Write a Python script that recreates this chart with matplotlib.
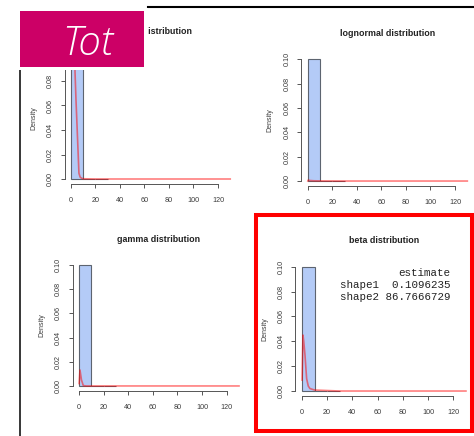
import matplotlib.pyplot as plt
from matplotlib import font_manager as fm
from matplotlib.patches import Rectangle
from matplotlib.lines import Line2D

# -------------------------
# Data
# -------------------------

titles = ["weibull distribution", "lognormal distribution",
          "gamma distribution", "beta distribution"]

bin_edges = [0, 10, 20, 30]
hist_density = [0.1, 0.0002, 0.0001]

x_ticks = [0, 20, 40, 60, 80, 100, 120]
y_ticks = [0.00, 0.02, 0.04, 0.06, 0.08, 0.10]

# fitted densities
weibull_x = [0.5, 1, 2, 3, 3.3, 4.1, 5.2, 6.5, 7.5, 8.7, 10, 20, 40, 80, 130]
weibull_y = [0.6, 0.4, 0.2, 0.11, 0.0876, 0.0645, 0.0373, 0.0047, 0.0015, 0.0006,
             0.0002, 0.0, 0.0, 0.0, 0.0]

lognormal_x = [0.1, 0.5, 1, 2, 5, 10, 30, 60, 130]
lognormal_y = [0.0, 0.0008, 0.0006, 0.0004, 0.0002, 0.0001, 0.0, 0.0, 0.0]

gamma_x = [0.1, 0.8, 2.0, 3.5, 6, 10, 30, 60, 130]
gamma_y = [0.002, 0.0132, 0.005, 0.0003, 0.0, 0.0, 0.0, 0.0, 0.0]

beta_x = [0.1, 0.8, 1.4, 2.4, 3.7, 5, 6.3, 10, 30, 60, 130]
beta_y = [0.0088, 0.045, 0.04, 0.029, 0.010, 0.004, 0.002, 0.0008, 0.0, 0.0, 0.0]

curves = [(weibull_x, weibull_y), (lognormal_x, lognormal_y),
          (gamma_x, gamma_y), (beta_x, beta_y)]

estimate_lines = ["estimate", "shape1  0.1096235", "shape2 86.7666729"]


def light_italic_font():
    # lightest regular-width italic face among the installed sans families
    prefs = ["Open Sans", "Lato", "Roboto", "Noto Sans", "Inter", "DejaVu Sans"]

    def wt(f):
        w = f.weight
        return w if isinstance(w, int) else fm.weight_dict.get(w, 400)

    for name in prefs:
        faces = [f for f in fm.fontManager.ttflist
                 if f.name == name and f.style in ("italic", "oblique")
                 and f.stretch in ("normal", 400)
                 and "ondensed" not in f.fname]
        if faces:
            faces.sort(key=lambda f: abs(wt(f) - 300))
            return fm.FontProperties(fname=faces[0].fname)
    return fm.FontProperties(style="italic")


# -------------------------
# Layout (pixels)
# -------------------------

W, H = 474, 436
fig = plt.figure(figsize=(W / 100, H / 100), dpi=100)
fig.patch.set_facecolor("white")

# plot regions: left, top, right, bottom
panels = [(64.6, 51.6, 236.6, 183.9),
          (301.3, 54.4, 473.7, 185.9),
          (72.6, 260.2, 245.4, 390.8),
          (295.4, 261.7, 472.5, 396.0)]
title_y = [31, 33.7, 239.3, 240]

bar_color = "#b4cbf7"
edge_color = "#5d6470"
axis_color = "#555555"
text_color = "#3a3a3a"

for i, (l, t, r, b) in enumerate(panels):
    ax = fig.add_axes([l / W, 1 - b / H, (r - l) / W, (b - t) / H])
    ax.set_xlim(-5.2, 135.2)
    ax.set_ylim(-0.004, 0.104)

    ax.bar(bin_edges[:-1], hist_density, width=10, align="edge",
           color=bar_color, edgecolor=edge_color, linewidth=0.8)
    cx, cy = curves[i]
    ax.plot(cx, cy, color="red", alpha=0.5, lw=1.2)

    for side in ["top", "right"]:
        ax.spines[side].set_visible(False)
    ax.spines["left"].set_bounds(0, 0.1)
    ax.spines["bottom"].set_bounds(0, 120)
    for side in ["left", "bottom"]:
        ax.spines[side].set_color(axis_color)
        ax.spines[side].set_linewidth(0.7)

    ax.set_xticks(x_ticks)
    ax.set_xticklabels([str(v) for v in x_ticks])
    ax.set_yticks(y_ticks)
    ax.set_yticklabels([f"{v:.2f}" for v in y_ticks], rotation=90, va="center")
    ax.tick_params(direction="out", length=3, width=0.7, color=axis_color,
                   labelsize=5.2, labelcolor=text_color)
    ax.tick_params(axis="x", pad=6.5)
    ax.tick_params(axis="y", pad=4.5)
    for lab in ax.get_xticklabels() + ax.get_yticklabels():
        lab.set_family("Liberation Sans")

    ax.annotate("Density", xy=(0, 0.5), xycoords="axes fraction",
                xytext=(-31, 0), textcoords="offset pixels", rotation=90,
                ha="center", va="center", fontsize=5, color=text_color,
                family="Liberation Sans")
    fig.text((l + r) / 2 / W, 1 - title_y[i] / H, titles[i], ha="center",
             va="center", fontsize=6.4, fontweight="bold", color="#222222",
             family="Liberation Sans")

# fit summary text in the beta panel
for k, line in enumerate(estimate_lines):
    fig.text(450.7 / W, 1 - (273 + 12.2 * k) / H, line, ha="right", va="center",
             fontsize=7.8, family="Liberation Mono", color="#222222")

# -------------------------
# Slide decorations
# -------------------------

fig.add_artist(Line2D([148 / W, 1], [1 - 7.5 / H] * 2, color="black",
                      lw=1.5, zorder=10))
fig.add_artist(Line2D([20 / W] * 2, [1 - 70 / H, 0], color="black",
                      lw=1.1, zorder=10))
# label shape: white outline around a magenta box
fig.add_artist(Rectangle((0, 1 - 70.5 / H), 148 / W, 62 / H,
                         transform=fig.transFigure, facecolor="white",
                         edgecolor="none", zorder=10))
fig.add_artist(Rectangle((20 / W, 1 - 67 / H), 124 / W, 56 / H,
                         transform=fig.transFigure, facecolor="#cc0066",
                         edgecolor="none", zorder=11))
tot_font = light_italic_font()
tot_font.set_size(29)
fig.text(88 / W, 1 - 55 / H, "Tot", ha="center", va="baseline",
         fontproperties=tot_font, color="white", zorder=12)
fig.add_artist(Rectangle((256 / W, 1 - 431 / H), 216 / W, 216 / H,
                         transform=fig.transFigure, fill=False,
                         edgecolor="#ff0000", lw=2.9, zorder=10))

plt.savefig("out.png", dpi=100)
